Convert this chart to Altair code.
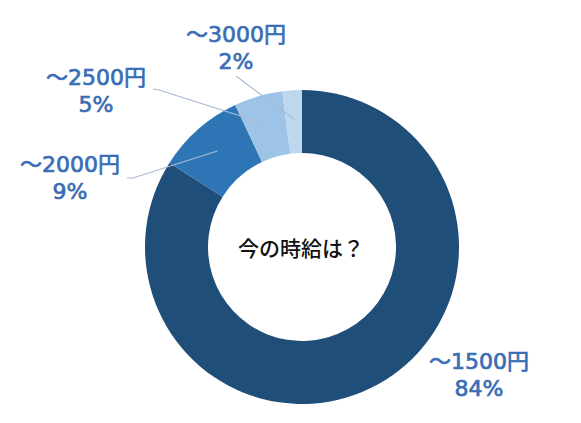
import altair as alt
import pandas as pd
import numpy as np

# ---- data ----
categories = ["～1500円", "～2000円", "～2500円", "～3000円"]
percents = [84, 9, 5, 2]
center_title = "今の時給は？"

# ---- styling / layout ----
slice_colors = ["#1F4E79", "#2E75B6", "#9DC3E6", "#BDD7EE"]
label_color = "#3A6DB5"
leader_color = "#A9BAD6"
FONT = "DejaVu Sans, Noto Sans CJK JP"
CJK = "Noto Sans CJK JP"
W, H = 565, 407
CX, CY = 294, 239
R_OUT, R_IN = 157, 94
R_LEADER = 128
LINE_GAP = 27

# label block centre offsets from the donut centre (layout)
label_offsets = {
    "～1500円": (177, 128),
    "～2000円": (-232, -69),
    "～2500円": (-206, -156),
    "～3000円": (-66, -199),
}
# leader line start / elbow offsets (layout)
leader_starts = {
    "～2000円": [(-175, -69), (-169, -69)],
    "～2500円": [(-149, -158), (-143, -157)],
    "～3000円": [(-66, -171)],
}

df = pd.DataFrame({"cat": categories, "pct": percents, "idx": range(len(categories))})
df["pct_label"] = [f"{p}%" for p in percents]
df["lx"] = [CX + label_offsets[c][0] for c in categories]
df["ly1"] = [CY + label_offsets[c][1] - LINE_GAP / 2 for c in categories]
df["ly2"] = [CY + label_offsets[c][1] + LINE_GAP / 2 for c in categories]

# leader lines: end point at the middle angle of each slice
total = float(sum(percents))
cum = np.cumsum(percents)
rows = []
for c, p, cm in zip(categories, percents, cum):
    if c not in leader_starts:
        continue
    frac = (cm - p / 2) / total
    ang = frac * 2 * np.pi
    pts = [(CX + dx, CY + dy) for dx, dy in leader_starts[c]]
    pts.append((CX + R_LEADER * np.sin(ang), CY - R_LEADER * np.cos(ang)))
    for k, (x, y) in enumerate(pts):
        rows.append({"cat": c, "k": k, "x": x, "y": y})
lead = pd.DataFrame(rows)

base = alt.Chart(df)

arcs = base.mark_arc(outerRadius=R_OUT, innerRadius=R_IN).encode(
    theta=alt.Theta("pct:Q", stack=True),
    color=alt.Color("cat:N", scale=alt.Scale(domain=categories, range=slice_colors), legend=None),
    order=alt.Order("idx:Q", sort="ascending"),
    x=alt.value(CX),
    y=alt.value(CY),
)

text_style = dict(font=FONT, fontSize=22, color=label_color, stroke=label_color,
                  strokeWidth=0.7, align="center", baseline="middle")

labels1 = base.mark_text(**text_style).encode(
    x=alt.X("lx:Q", scale=None),
    y=alt.Y("ly1:Q", scale=None),
    text="cat:N",
)
labels2 = base.mark_text(**text_style).encode(
    x=alt.X("lx:Q", scale=None),
    y=alt.Y("ly2:Q", scale=None),
    text="pct_label:N",
)

leaders = alt.Chart(lead).mark_line(color=leader_color, strokeWidth=1.2).encode(
    x=alt.X("x:Q", scale=None),
    y=alt.Y("y:Q", scale=None),
    detail="cat:N",
    order="k:Q",
)

title = alt.Chart(pd.DataFrame({"t": [center_title]})).mark_text(
    font=CJK, fontSize=21, fontWeight=500, color="#111111",
    align="center", baseline="middle",
).encode(
    x=alt.value(CX - 1),
    y=alt.value(CY + 3),
    text="t:N",
)

chart = alt.layer(arcs, leaders, labels1, labels2, title).properties(
    width=W, height=H, autosize=alt.AutoSizeParams(type="none"), padding=0,
).configure_view(strokeWidth=0)

chart.save("out.html", embed_options={"renderer": "svg", "actions": False})
